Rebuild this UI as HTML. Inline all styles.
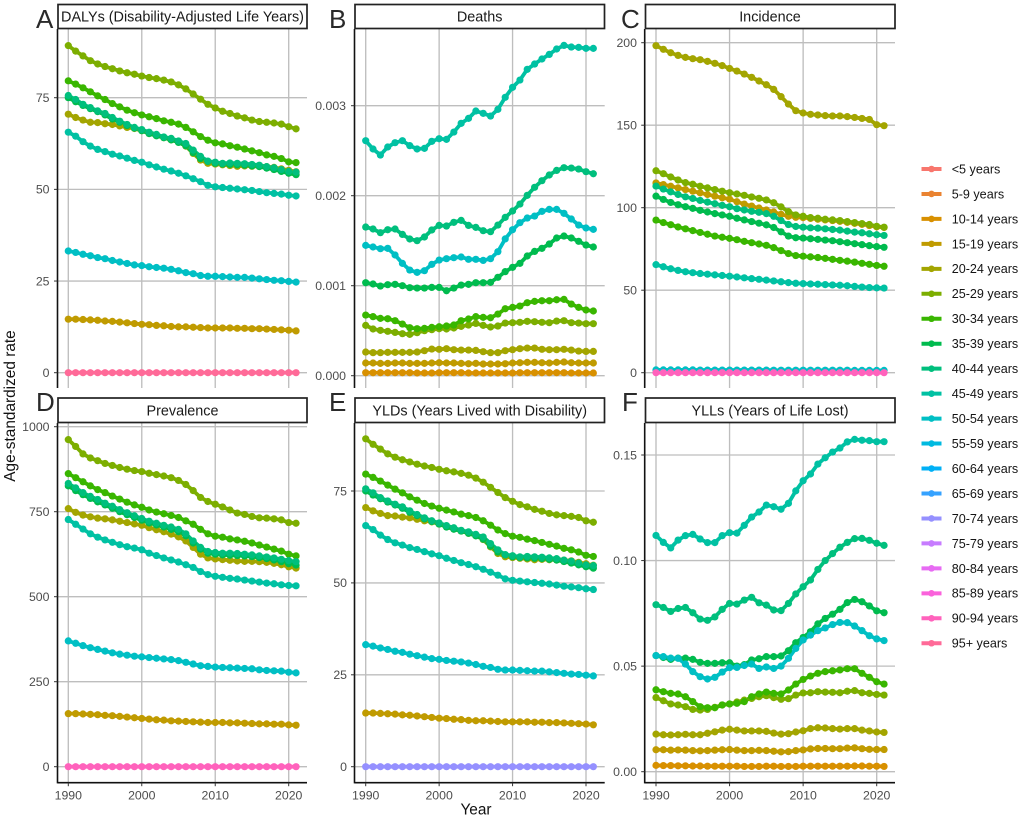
<!DOCTYPE html>
<html lang="en">
<head>
<meta charset="utf-8">
<title>Age-standardized rate by age group, 1990-2021</title>
<style>
html,body{margin:0;padding:0;background:#fff;width:1022px;height:818px;overflow:hidden}
svg{display:block;font-family:"Liberation Sans",Arial,sans-serif;filter:blur(0.3px)}
.strip-box{fill:#fff;stroke:#222;stroke-width:1.7}
.strip-text{font-size:14.4px;fill:#1a1a1a;text-anchor:middle}
.letter{font-size:26px;fill:#2a2a2a}
.axis-title{font-size:15.4px;fill:#111;text-anchor:middle}
</style>
</head>
<body>
<svg id="figure" xmlns="http://www.w3.org/2000/svg" width="1022" height="818" viewBox="0 0 1022 818">
<rect x="0" y="0" width="1022" height="818" fill="#fff"/>
<g id="panels"></g>
<g><rect class="strip-box" x="58" y="4.5" width="249" height="24"/><text class="strip-text" x="182.5" y="21.6">DALYs (Disability-Adjusted Life Years)</text></g>
<g><rect class="strip-box" x="355" y="4.5" width="249.5" height="24"/><text class="strip-text" x="479.7" y="21.6">Deaths</text></g>
<g><rect class="strip-box" x="645.5" y="4.5" width="249.5" height="24"/><text class="strip-text" x="770" y="21.6">Incidence</text></g>
<g><rect class="strip-box" x="58" y="398" width="249" height="24.5"/><text class="strip-text" x="182.5" y="415.7">Prevalence</text></g>
<g><rect class="strip-box" x="355" y="398" width="249.5" height="24.5"/><text class="strip-text" x="479.7" y="415.7">YLDs (Years Lived with Disability)</text></g>
<g><rect class="strip-box" x="645.5" y="398" width="249.5" height="24.5"/><text class="strip-text" x="770" y="415.7">YLLs (Years of Life Lost)</text></g>
<text class="letter" x="36" y="28">A</text>
<text class="letter" x="329" y="28">B</text>
<text class="letter" x="621" y="28">C</text>
<text class="letter" x="36" y="411">D</text>
<text class="letter" x="329" y="411">E</text>
<text class="letter" x="622" y="411">F</text>
<text class="axis-title" transform="translate(15,406) rotate(-90)">Age-standardized rate</text>
<text class="axis-title" x="476" y="814.5">Year</text>
<g id="legend"></g>
</svg>
<script>
// ---------- shared categories ----------
const years = [1990,1991,1992,1993,1994,1995,1996,1997,1998,1999,2000,2001,2002,2003,2004,2005,2006,2007,2008,2009,2010,2011,2012,2013,2014,2015,2016,2017,2018,2019,2020,2021];
const ageGroups = ['<5 years','5-9 years','10-14 years','15-19 years','20-24 years','25-29 years','30-34 years','35-39 years','40-44 years','45-49 years','50-54 years','55-59 years','60-64 years','65-69 years','70-74 years','75-79 years','80-84 years','85-89 years','90-94 years','95+ years'];
const ageColors = ['#F8766D','#EA8331','#D89000','#C09B00','#A3A500','#7CAE00','#39B600','#00BB4E','#00BF7D','#00C1A3','#00BFC4','#00BAE0','#00B0F6','#35A2FF','#9590FF','#C77CFF','#E76BF3','#FA62DB','#FF62BC','#FF6A98'];
const xTicks = [1990,2000,2010,2020];

// ---------- A: DALYs ----------
const dalysTicks = [0,25,50,75];
const dalysTickLabels = ['0','25','50','75'];
const dalys15to19 = [14.6,14.6,14.5,14.4,14.3,14.1,14.0,13.8,13.6,13.4,13.2,13.1,12.9,12.8,12.6,12.5,12.5,12.4,12.3,12.2,12.2,12.2,12.2,12.1,12.1,12.0,12.0,11.9,11.8,11.7,11.6,11.4];
const dalys20to24 = [70.5,69.6,68.9,68.3,68.2,67.9,67.7,67.3,66.9,66.6,66.0,65.3,64.7,64.1,63.5,62.9,61.8,59.8,58.0,57.1,56.9,56.7,56.5,56.3,56.4,56.3,56.3,56.2,56.0,55.6,55.2,54.8];
const dalys25to29 = [89.2,87.7,86.4,85.1,84.2,83.5,82.9,82.3,81.8,81.4,80.9,80.5,80.2,79.8,79.3,78.5,77.4,76.0,74.6,73.2,72.2,71.3,70.7,70.0,69.5,68.9,68.5,68.3,68.1,67.8,67.1,66.5];
const dalys30to34 = [79.6,78.7,77.7,76.6,75.5,74.5,73.4,72.5,71.6,70.9,70.3,69.8,69.3,68.7,68.3,67.8,66.9,65.7,64.4,63.4,62.7,62.4,61.9,61.5,61.0,60.5,60.0,59.4,59.0,58.4,57.5,57.3];
const dalys35to39 = [75.0,73.9,72.9,72.0,71.2,70.3,69.2,68.3,67.4,66.7,66.0,65.2,64.6,64.1,63.5,62.8,61.9,60.0,58.4,57.6,57.1,56.9,56.8,56.7,56.6,56.4,56.2,55.8,55.4,54.9,54.4,54.0];
const dalys40to44 = [75.6,74.5,73.2,72.3,71.4,70.7,69.6,68.6,67.7,66.9,66.3,65.6,65.0,64.3,63.9,63.2,62.5,60.7,59.0,57.7,57.4,57.1,57.2,57.1,57.0,56.8,56.6,56.2,55.9,55.4,54.9,54.7];
const dalys45to49 = [65.6,64.5,63.0,61.8,60.9,60.3,59.6,59.1,58.5,57.9,57.4,56.7,56.1,55.5,55.0,54.4,53.7,52.9,52.1,51.1,50.7,50.5,50.3,50.1,49.9,49.7,49.4,49.1,48.9,48.7,48.4,48.2];
const dalys50to54 = [33.2,32.8,32.3,31.9,31.4,31.1,30.6,30.2,29.8,29.4,29.2,28.9,28.7,28.5,28.2,27.8,27.3,27.0,26.5,26.3,26.3,26.2,26.1,26.0,26.0,25.8,25.6,25.4,25.2,25.1,24.9,24.7];
const dalys95plus = [0,0,0,0,0,0,0,0,0,0,0,0,0,0,0,0,0,0,0,0,0,0,0,0,0,0,0,0,0,0,0,0];

// ---------- B: Deaths (rates) ----------
const deathsTicks = [0,0.001,0.002,0.003];
const deathsTickLabels = ['0.000','0.001','0.002','0.003'];
const deaths10to14 = [0.000033,0.000033,0.000033,0.000033,0.000033,0.000033,0.000033,0.00003,0.00003,0.00003,0.000033,0.000033,0.000033,0.000033,0.00003,0.00003,0.00003,0.00003,0.00003,0.00003,0.00003,0.000033,0.000033,0.000033,0.000033,0.000033,0.000033,0.000033,0.00003,0.00003,0.00003,0.00003];
const deaths15to19 = [0.000141,0.000141,0.000137,0.000137,0.000141,0.000141,0.000137,0.000137,0.000137,0.000141,0.000144,0.000141,0.000141,0.000137,0.000133,0.000137,0.00013,0.00013,0.00013,0.000133,0.000141,0.000144,0.000148,0.000148,0.000144,0.000141,0.000148,0.000152,0.000144,0.000141,0.000141,0.000141];
const deaths20to24 = [0.000263,0.000256,0.000256,0.000259,0.000259,0.000259,0.000259,0.000263,0.000278,0.000296,0.000293,0.0003,0.000289,0.000285,0.000285,0.000281,0.000267,0.000256,0.000256,0.000278,0.000289,0.0003,0.000307,0.000307,0.000293,0.000289,0.000289,0.000293,0.000285,0.000274,0.00027,0.00027];
const deaths25to29 = [0.000559,0.000519,0.000504,0.000493,0.000481,0.000467,0.000459,0.000478,0.0005,0.000511,0.000522,0.000519,0.00053,0.000548,0.000563,0.000581,0.000559,0.000541,0.000552,0.000585,0.000589,0.000593,0.000604,0.0006,0.000593,0.000589,0.000607,0.000611,0.000589,0.000585,0.000578,0.000578];
const deaths30to34 = [0.000674,0.000656,0.000637,0.000633,0.000611,0.000574,0.000533,0.000522,0.000526,0.000537,0.000544,0.000552,0.000563,0.000611,0.00063,0.000656,0.000648,0.000644,0.000685,0.000744,0.000759,0.000774,0.000811,0.000826,0.000833,0.000833,0.000844,0.000848,0.000796,0.000759,0.00073,0.000719];
const deaths35to39 = [0.001033,0.001019,0.000996,0.001011,0.001015,0.001,0.000978,0.000974,0.000974,0.000981,0.000981,0.000944,0.000974,0.001007,0.001015,0.001033,0.001033,0.001037,0.001093,0.001156,0.001204,0.001248,0.00133,0.001381,0.001415,0.001463,0.00153,0.001552,0.00153,0.001493,0.001452,0.00143];
const deaths40to44 = [0.001652,0.00163,0.001589,0.001622,0.00163,0.00157,0.001519,0.0015,0.001541,0.001619,0.00167,0.001663,0.001704,0.001726,0.00167,0.001648,0.001611,0.0016,0.001674,0.001759,0.00183,0.001907,0.002004,0.002093,0.002167,0.00223,0.002281,0.002311,0.002307,0.002296,0.002267,0.002244];
const deaths45to49 = [0.002611,0.002519,0.002452,0.002541,0.002589,0.002611,0.002556,0.002519,0.002526,0.002604,0.002633,0.002626,0.002707,0.002804,0.002859,0.002941,0.002915,0.002885,0.002959,0.003093,0.003204,0.003285,0.003404,0.003463,0.003519,0.00357,0.00363,0.00367,0.003652,0.003648,0.003637,0.003637];
const deaths50to54 = [0.001448,0.00143,0.001411,0.001415,0.001341,0.001248,0.001174,0.001148,0.001167,0.001237,0.001285,0.0013,0.001311,0.001319,0.001293,0.001293,0.001281,0.0013,0.001378,0.00152,0.001622,0.0017,0.001752,0.001774,0.001826,0.001848,0.001848,0.001804,0.001741,0.001674,0.001641,0.001626];

// ---------- C: Incidence ----------
const incidenceTicks = [0,50,100,150,200];
const incidenceTickLabels = ['0','50','100','150','200'];
const incidence15to19 = [115,114,113,112,111,110,109,108,107,106,105.2,103.6,102.2,101,99.8,98.6,97.4,96,94.8,94.2,94,93.5,93,92.6,92.2,91.7,91.1,90.5,89.9,89.2,88.4,88];
const incidence20to24 = [198.2,196,193.9,192.3,191.1,190.3,189.7,188.7,187.5,186.1,184.4,182.8,181,179,176.8,174.5,171.7,167.3,162.8,158.8,157.4,156.6,156.2,155.8,155.6,155.6,155.2,154.7,154.1,153.5,150.3,149.7];
const incidence25to29 = [122.4,120.6,118.6,116.8,115.2,114.2,113,112,111,110,109.1,108.3,107.5,106.5,105.7,104.7,103,100.5,97.6,95.6,94.8,94,93.6,93,92.6,92.2,91.6,91,90.4,89.8,88.7,88.2];
const incidence30to34 = [92.5,91,89.7,88.3,87.2,86.1,85,83.9,82.8,82.1,81.4,80.6,79.6,78.8,78,77.2,75.8,74,72.2,71,70.6,70.2,69.8,69.3,68.7,68.1,67.6,67,66.3,65.7,65,64.5];
const incidence35to39 = [107,105,103.2,101.8,100.6,99.6,98.4,97.4,96.4,95.6,94.8,93.6,92.6,91.6,90.6,89.6,88,85.4,82.8,81.8,81.6,81.2,80.8,80.4,80,79.4,78.8,78.2,77.6,77,76.4,76];
const incidence40to44 = [113.1,111.3,109.6,108,106.6,105.6,104.4,103.4,102.4,101.4,100.6,99.4,98.6,97.8,97.2,96.4,94.8,92.2,89.8,88.6,88.2,87.8,87.6,87.2,86.8,86.4,85.8,85.2,84.8,84.2,83.6,83.2];
const incidence45to49 = [65.5,64.2,63,62,61.2,60.6,60.1,59.7,59.3,58.9,58.5,58,57.5,57,56.6,56.1,55.6,55.1,54.6,54.2,54,53.8,53.6,53.4,53.2,53,52.7,52.3,51.9,51.6,51.4,51.3];
const incidence50to54 = [1.7,1.7,1.7,1.7,1.7,1.7,1.6,1.6,1.6,1.6,1.6,1.6,1.6,1.6,1.6,1.6,1.5,1.5,1.5,1.5,1.5,1.5,1.5,1.5,1.5,1.5,1.5,1.4,1.4,1.4,1.4,1.4];
const incidence90to94 = [0,0,0,0,0,0,0,0,0,0,0,0,0,0,0,0,0,0,0,0,0,0,0,0,0,0,0,0,0,0,0,0];

// ---------- D: Prevalence ----------
const prevalenceTicks = [0,250,500,750,1000];
const prevalenceTickLabels = ['0','250','500','750','1000'];
const prevalence15to19 = [156,156,155,154,153,151,150,148,146,144,142,140,138,137,135,134,133,132,131,130,130,130,129,129,128,127,126,126,125,125,123,122];
const prevalence20to24 = [759,748,740,735,731,729,726,722,718,714,710,703,697,691,684,676,664,645,625,614,611,609,607,605,604,604,603,601,598,594,588,584];
const prevalence25to29 = [962,942,920,908,900,892,886,880,875,871,868,863,859,855,850,842,830,812,792,780,772,764,755,746,742,736,732,731,729,726,718,716];
const prevalence30to34 = [862,850,838,826,815,806,796,787,778,770,763,755,749,744,739,733,723,713,698,685,678,675,670,667,663,658,652,646,640,634,625,620];
const prevalence35to39 = [826,812,800,789,779,770,760,750,741,733,725,717,711,705,698,691,679,658,640,628,625,623,622,621,620,618,615,612,608,603,597,593];
const prevalence40to44 = [833,820,806,795,786,775,766,756,747,738,730,722,716,710,705,698,685,664,645,633,630,628,628,627,625,623,620,617,614,610,606,603];
const prevalence45to49 = [727,713,699,685,675,667,660,653,647,643,638,628,621,614,608,602,594,586,574,565,560,557,554,552,549,546,543,540,538,535,533,532];
const prevalence50to54 = [370,363,356,350,345,340,335,331,328,325,323,321,319,317,315,312,307,302,297,295,293,292,291,290,289,288,285,283,282,281,278,276];
const prevalence90to94 = [0,0,0,0,0,0,0,0,0,0,0,0,0,0,0,0,0,0,0,0,0,0,0,0,0,0,0,0,0,0,0,0];

// ---------- E: YLDs ----------
const yldsTicks = [0,25,50,75];
const yldsTickLabels = ['0','25','50','75'];
const ylds15to19 = [14.6,14.6,14.5,14.4,14.3,14.1,14.0,13.8,13.6,13.4,13.2,13.1,12.9,12.8,12.6,12.5,12.5,12.4,12.3,12.2,12.2,12.2,12.2,12.1,12.1,12.0,12.0,11.9,11.8,11.7,11.6,11.4];
const ylds20to24 = [70.5,69.6,68.9,68.3,68.2,67.9,67.7,67.3,66.9,66.6,66.0,65.3,64.7,64.1,63.5,62.9,61.8,59.8,58.0,57.1,56.9,56.7,56.5,56.3,56.4,56.3,56.3,56.2,56.0,55.6,55.2,54.8];
const ylds25to29 = [89.2,87.7,86.4,85.1,84.2,83.5,82.9,82.3,81.8,81.4,80.9,80.5,80.2,79.8,79.3,78.5,77.4,76.0,74.6,73.2,72.2,71.3,70.7,70.0,69.5,68.9,68.5,68.3,68.1,67.8,66.9,66.5];
const ylds30to34 = [79.6,78.7,77.7,76.6,75.5,74.5,73.4,72.5,71.6,70.9,70.3,69.8,69.3,68.7,68.3,67.8,66.9,65.7,64.4,63.4,62.7,62.4,61.9,61.5,61.0,60.5,60.0,59.4,59.0,58.4,57.5,57.2];
const ylds35to39 = [75.0,73.9,72.9,72.0,71.2,70.3,69.2,68.3,67.4,66.7,66.0,65.2,64.6,64.1,63.5,62.8,61.9,60.0,58.4,57.6,57.1,56.9,56.8,56.7,56.6,56.4,56.2,55.8,55.4,54.9,54.4,54.0];
const ylds40to44 = [75.6,74.5,73.2,72.3,71.4,70.7,69.6,68.6,67.7,66.9,66.3,65.6,65.0,64.3,63.9,63.2,62.5,60.7,59.0,57.7,57.4,57.1,57.2,57.1,57.0,56.8,56.6,56.2,55.9,55.4,54.9,54.7];
const ylds45to49 = [65.6,64.5,63.0,61.8,60.9,60.3,59.6,59.1,58.5,57.9,57.4,56.7,56.1,55.5,55.0,54.4,53.7,52.9,52.1,51.1,50.7,50.5,50.3,50.1,49.9,49.7,49.4,49.1,48.9,48.7,48.4,48.2];
const ylds50to54 = [33.2,32.8,32.3,31.9,31.4,31.1,30.6,30.2,29.8,29.4,29.2,28.9,28.7,28.5,28.2,27.8,27.3,27.0,26.5,26.3,26.3,26.2,26.1,26.0,26.0,25.8,25.6,25.4,25.2,25.1,24.9,24.7];
const ylds70to74 = [0,0,0,0,0,0,0,0,0,0,0,0,0,0,0,0,0,0,0,0,0,0,0,0,0,0,0,0,0,0,0,0];

// ---------- F: YLLs ----------
const yllsTicks = [0,0.05,0.10,0.15];
const yllsTickLabels = ['0.00','0.05','0.10','0.15'];
const ylls10to14 = [0.003,0.0029,0.0029,0.0028,0.0028,0.0027,0.0027,0.0026,0.0026,0.0026,0.0026,0.0026,0.0025,0.0025,0.0025,0.0026,0.0026,0.0025,0.0025,0.0025,0.0026,0.0026,0.0026,0.0026,0.0026,0.0026,0.0026,0.0027,0.0027,0.0026,0.0026,0.0025];
const ylls15to19 = [0.0104,0.0104,0.0102,0.0103,0.0102,0.01,0.0099,0.01,0.0102,0.0104,0.0105,0.0102,0.01,0.01,0.0101,0.01,0.0097,0.0094,0.0095,0.01,0.0103,0.0108,0.011,0.011,0.0109,0.0109,0.0112,0.0113,0.0109,0.0106,0.0105,0.0105];
const ylls20to24 = [0.0178,0.0175,0.0174,0.0175,0.0177,0.0175,0.0175,0.0182,0.0189,0.0197,0.0201,0.0197,0.0193,0.0193,0.0193,0.0191,0.0183,0.0178,0.018,0.0188,0.0194,0.0204,0.0208,0.0207,0.0204,0.0202,0.0204,0.0204,0.0197,0.0193,0.0188,0.0186];
const ylls25to29 = [0.0351,0.0336,0.0321,0.0316,0.0308,0.0295,0.0292,0.0295,0.0305,0.0316,0.0321,0.033,0.0339,0.0347,0.0355,0.036,0.0351,0.0343,0.0346,0.0363,0.0373,0.0374,0.0379,0.0377,0.0376,0.0374,0.0381,0.0384,0.0374,0.0371,0.0366,0.0363];
const ylls30to34 = [0.0388,0.0379,0.0371,0.0368,0.0355,0.0332,0.0308,0.0303,0.0303,0.0316,0.0321,0.0324,0.0332,0.0355,0.0368,0.0377,0.0371,0.0368,0.0387,0.0415,0.0437,0.0453,0.0466,0.0474,0.0478,0.0482,0.0488,0.0488,0.0466,0.0447,0.0426,0.0415];
const ylls35to39 = [0.055,0.0541,0.0532,0.0538,0.0538,0.0532,0.0518,0.0513,0.0513,0.0516,0.0516,0.05,0.0507,0.0529,0.0535,0.0545,0.0545,0.0548,0.0573,0.0611,0.0636,0.0663,0.07,0.0726,0.0746,0.0769,0.0801,0.0816,0.0805,0.0785,0.0762,0.0753];
const ylls40to44 = [0.0791,0.0778,0.0759,0.0773,0.0778,0.0753,0.0723,0.0717,0.0733,0.0769,0.0797,0.0794,0.0813,0.0826,0.08,0.0789,0.0766,0.0763,0.0797,0.0842,0.0876,0.0908,0.0958,0.1,0.1033,0.1063,0.1086,0.1104,0.1105,0.1096,0.1082,0.1072];
const ylls45to49 = [0.1119,0.1086,0.106,0.1097,0.1118,0.1124,0.1102,0.1085,0.1085,0.1118,0.1132,0.113,0.1167,0.1206,0.123,0.1263,0.1255,0.1243,0.1271,0.133,0.1378,0.141,0.1457,0.1487,0.1514,0.1533,0.1562,0.1574,0.157,0.1568,0.1563,0.1563];
const ylls50to54 = [0.055,0.0545,0.0538,0.0537,0.051,0.0474,0.045,0.0439,0.0447,0.0472,0.0493,0.0494,0.0503,0.051,0.0489,0.0496,0.0489,0.05,0.0537,0.0584,0.0624,0.0647,0.0668,0.0681,0.0697,0.0707,0.0706,0.069,0.0668,0.0644,0.0629,0.0621];

// ---------- panel definitions (series listed in legend order) ----------
const panels = [
  {id:'a', showX:false, left:57.5, right:307, top:29, bottom:388, x1990:68.3, x2020:288.7, y0:372.7, yRef:97.7, refVal:75, labelEnd:49.5,
   ticks:dalysTicks, tickLabels:dalysTickLabels,
   series:[[3,dalys15to19],[4,dalys20to24],[5,dalys25to29],[6,dalys30to34],[7,dalys35to39],[8,dalys40to44],[9,dalys45to49],[10,dalys50to54],[19,dalys95plus]]},
  {id:'b', showX:false, left:354.5, right:604.7, top:29, bottom:388, x1990:365.7, x2020:586, y0:375.7, yRef:105.7, refVal:0.003, labelEnd:346,
   ticks:deathsTicks, tickLabels:deathsTickLabels,
   series:[[2,deaths10to14],[3,deaths15to19],[4,deaths20to24],[5,deaths25to29],[6,deaths30to34],[7,deaths35to39],[8,deaths40to44],[9,deaths45to49],[10,deaths50to54]]},
  {id:'c', showX:false, left:644.7, right:895, top:29, bottom:388, x1990:656, x2020:876.7, y0:372.7, yRef:42.7, refVal:200, labelEnd:637,
   ticks:incidenceTicks, tickLabels:incidenceTickLabels,
   series:[[3,incidence15to19],[4,incidence20to24],[5,incidence25to29],[6,incidence30to34],[7,incidence35to39],[8,incidence40to44],[9,incidence45to49],[10,incidence50to54],[18,incidence90to94]]},
  {id:'d', showX:true, left:57.5, right:307, top:423, bottom:782.7, x1990:68.3, x2020:288.7, y0:766.7, yRef:426.7, refVal:1000, labelEnd:49.5,
   ticks:prevalenceTicks, tickLabels:prevalenceTickLabels,
   series:[[3,prevalence15to19],[4,prevalence20to24],[5,prevalence25to29],[6,prevalence30to34],[7,prevalence35to39],[8,prevalence40to44],[9,prevalence45to49],[10,prevalence50to54],[18,prevalence90to94]]},
  {id:'e', showX:true, left:354.5, right:604.7, top:423, bottom:782.7, x1990:365.7, x2020:586, y0:766.7, yRef:491, refVal:75, labelEnd:347,
   ticks:yldsTicks, tickLabels:yldsTickLabels,
   series:[[3,ylds15to19],[4,ylds20to24],[5,ylds25to29],[6,ylds30to34],[7,ylds35to39],[8,ylds40to44],[9,ylds45to49],[10,ylds50to54],[14,ylds70to74]]},
  {id:'f', showX:true, left:644.7, right:895, top:423, bottom:782.7, x1990:656, x2020:876.7, y0:771.7, yRef:455, refVal:0.15, labelEnd:637,
   ticks:yllsTicks, tickLabels:yllsTickLabels,
   series:[[2,ylls10to14],[3,ylls15to19],[4,ylls20to24],[5,ylls25to29],[6,ylls30to34],[7,ylls35to39],[8,ylls40to44],[9,ylls45to49],[10,ylls50to54]]}
];

const NS = 'http://www.w3.org/2000/svg';
function mk(tag, parent) {
  const el = document.createElementNS(NS, tag);
  parent.appendChild(el);
  return el;
}
function setAll(el, props) {
  for (const k in props) el.setAttribute(k, props[k]);
  return el;
}

const panelsRoot = document.getElementById('panels');
panels.forEach(function (p) {
  const xScale = function (yr) { return p.x1990 + (yr - 1990) * (p.x2020 - p.x1990) / 30; };
  const yScale = function (v) { return p.y0 + v * (p.yRef - p.y0) / p.refVal; };

  const g = mk('g', panelsRoot);
  
  

  // grid
  p.ticks.forEach(function (t) {
    const gl = mk('line', g);
    
    
    setAll(gl, {x1:p.left, x2:p.right, y1:yScale(t), y2:yScale(t), stroke:'#bebebe', 'stroke-width':1.35});
  });
  xTicks.forEach(function (t) {
    const gl = mk('line', g);
    
    
    setAll(gl, {x1:xScale(t), x2:xScale(t), y1:p.top, y2:p.bottom, stroke:'#bebebe', 'stroke-width':1.35});
  });

  // lines
  p.series.forEach(function (s) {
    const pl = mk('polyline', g);
    
    
    const pts = s[1].map(function (v, i) { return xScale(years[i]).toFixed(2) + ',' + yScale(v).toFixed(2); }).join(' ');
    setAll(pl, {points:pts, fill:'none', stroke:ageColors[s[0]], 'stroke-width':3.8, 'stroke-linejoin':'round'});
  });
  // points
  p.series.forEach(function (s) {
    const pg = mk('g', g);
    
    
    s[1].forEach(function (v, i) {
      const c = mk('circle', pg);
      
      
      setAll(c, {cx:xScale(years[i]).toFixed(2), cy:yScale(v).toFixed(2), r:3.6, fill:ageColors[s[0]]});
    });
  });

  // axes
  const ya = mk('line', g);
  
  
  setAll(ya, {x1:p.left, x2:p.left, y1:p.top, y2:p.bottom + (p.showX ? 0.7 : 0), stroke:'#111', 'stroke-width':1.6});
  p.ticks.forEach(function (t, i) {
    const tk = mk('line', g);
    
    
    setAll(tk, {x1:p.left - 3.5, x2:p.left, y1:yScale(t), y2:yScale(t), stroke:'#333', 'stroke-width':1});
    const lb = mk('text', g);
    
    
    setAll(lb, {x:p.labelEnd, y:yScale(t) + 4.3, 'text-anchor':'end', 'font-size':12.3, fill:'#4d4d4d'});
    lb.textContent = p.tickLabels[i];
  });
  if (p.showX) {
    const xa = mk('line', g);
    
    
    setAll(xa, {x1:p.left, x2:p.right, y1:p.bottom, y2:p.bottom, stroke:'#111', 'stroke-width':1.6});
    xTicks.forEach(function (t) {
      const tk = mk('line', g);
      
      
      setAll(tk, {x1:xScale(t), x2:xScale(t), y1:p.bottom, y2:p.bottom + 3.5, stroke:'#333', 'stroke-width':1});
      const lb = mk('text', g);
      
      
      setAll(lb, {x:xScale(t), y:799.3, 'text-anchor':'middle', 'font-size':12.3, fill:'#4d4d4d'});
      lb.textContent = String(t);
    });
  }
});

// legend
const legendRoot = document.getElementById('legend');
ageGroups.forEach(function (name, i) {
  const y = 169 + i * 24.96;
  const g = mk('g', legendRoot);
  
  
  const ln = mk('line', g);
  
  
  setAll(ln, {x1:921.5, x2:941.5, y1:y, y2:y, stroke:ageColors[i], 'stroke-width':4});
  const dot = mk('circle', g);
  
  
  setAll(dot, {cx:931.5, cy:y, r:3.3, fill:ageColors[i]});
  const tx = mk('text', g);
  
  
  setAll(tx, {x:951.7, y:y + 4.4, 'font-size':12.6, fill:'#141414'});
  tx.textContent = name;
});
</script>
</body>
</html>
